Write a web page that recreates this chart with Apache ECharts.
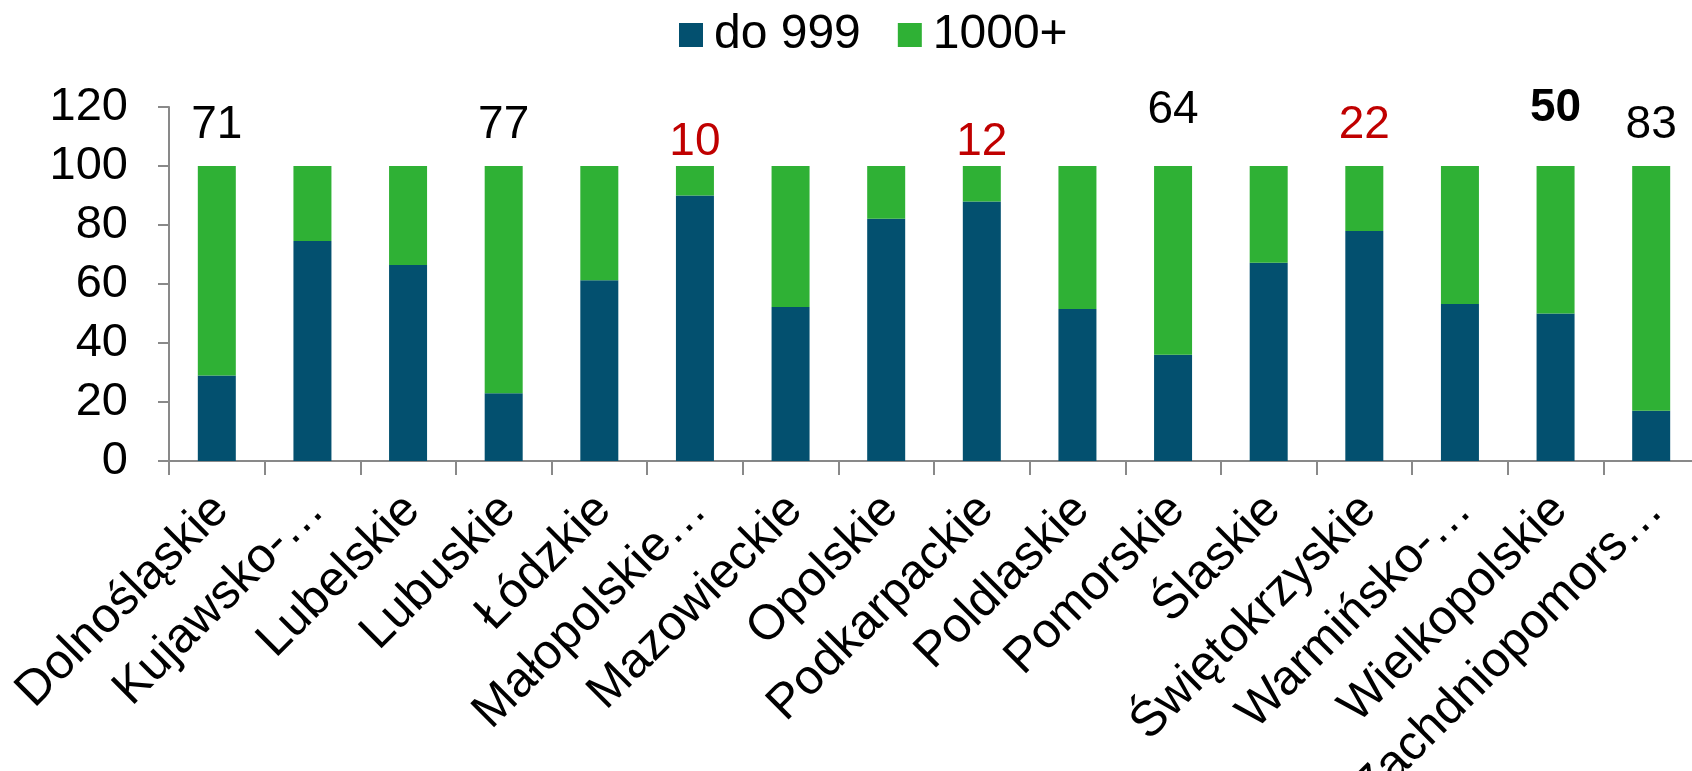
<!DOCTYPE html>
<html>
<head>
<meta charset="utf-8">
<script src="https://cdn.jsdelivr.net/npm/echarts@6/dist/echarts.min.js"></script>
<style>
html,body{margin:0;padding:0;background:#fff;}
#chart{width:1692px;height:771px;}
</style>
</head>
<body>
<div id="chart"></div>
<script>
// ---- data ----
const categories = ['Dolnośląskie','Kujawsko-…','Lubelskie','Lubuskie','Łódzkie','Małopolskie…','Mazowieckie','Opolskie','Podkarpackie','Poldlaskie','Pomorskie','Ślaskie','Świętokrzyskie','Warmińsko-…','Wielkopolskie','Zachdniopomors…'];
const seriesNames = ['do 999', '1000+'];
const smallFirms = [29, 74.6, 66.4, 23, 61.3, 90, 52.2, 82.1, 88, 51.5, 36, 67.2, 78, 53.2, 50, 17];
const largeFirms = [71, 25.4, 33.6, 77, 38.7, 10, 47.8, 17.9, 12, 48.5, 64, 32.8, 22, 46.8, 50, 83];
const shareLabels = ['71','','','77','','10','','','12','','64','','22','','50','83'];
const yTicks = [0, 20, 40, 60, 80, 100, 120];

// ---- styling (not data) ----
const FONT = '"Liberation Sans", Arial, sans-serif';
const redIdx = [5, 8, 12];
const boldIdx = [14];
const labelLift = {0: 18, 3: 18, 5: 1, 8: 1, 10: 33, 12: 18, 14: 35, 15: 18};

const largeData = largeFirms.map((v, i) => {
  const t = shareLabels[i];
  if (!t) return v;
  return {
    value: v,
    label: {
      show: true,
      position: 'top',
      distance: labelLift[i] !== undefined ? labelLift[i] : 18,
      formatter: t,
      color: redIdx.includes(i) ? '#C00000' : '#000',
      fontWeight: boldIdx.includes(i) ? 'bold' : 'normal',
      fontSize: 46,
      fontFamily: FONT
    }
  };
});

const chart = echarts.init(document.getElementById('chart'), null, {renderer: 'canvas'});
chart.setOption({
  animation: false,
  textStyle: {fontFamily: FONT},
  legend: {
    left: 674,
    top: 6,
    itemWidth: 24,
    itemHeight: 24,
    itemGap: 37,
    icon: 'rect',
    textStyle: {fontSize: 48, color: '#000', fontFamily: FONT, padding: [0, 0, 0, 6]},
    data: seriesNames
  },
  grid: {left: 169, top: 107, bottom: 310, right: -7, containLabel: false, outerBoundsMode: 'none'},
  xAxis: {
    type: 'category',
    data: categories,
    axisLine: {lineStyle: {color: '#898989', width: 2}},
    axisTick: {show: true, length: 14, lineStyle: {color: '#898989', width: 2}},
    axisLabel: {interval: 0, rotate: 45, fontSize: 49, color: '#000', margin: 46, padding: [0, -6, 0, 0], fontFamily: FONT}
  },
  yAxis: {
    type: 'value',
    min: yTicks[0],
    max: yTicks[yTicks.length - 1],
    interval: 20,
    splitLine: {show: false},
    axisLine: {show: true, lineStyle: {color: '#898989', width: 2}},
    axisTick: {show: true, length: 11, lineStyle: {color: '#898989', width: 2}},
    axisLabel: {fontSize: 47, color: '#000', margin: 41, fontFamily: FONT}
  },
  series: [
    {
      name: seriesNames[0],
      type: 'bar',
      stack: 'total',
      barWidth: 38,
      itemStyle: {color: '#03506F'},
      data: smallFirms
    },
    {
      name: seriesNames[1],
      type: 'bar',
      stack: 'total',
      barWidth: 38,
      itemStyle: {color: '#2FB135'},
      data: largeData
    }
  ]
});
</script>
</body>
</html>
